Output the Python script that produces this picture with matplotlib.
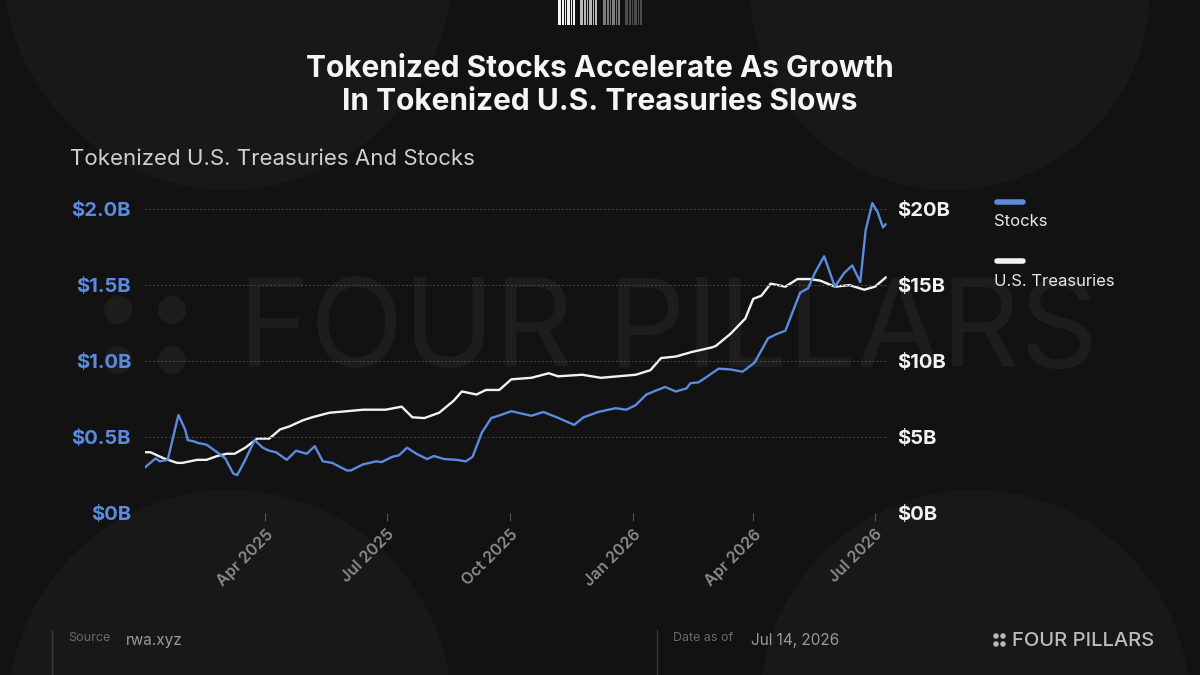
import numpy as np
import pandas as pd
import matplotlib
matplotlib.use("Agg")
import matplotlib.pyplot as plt
import matplotlib.dates as mdates
from matplotlib.patches import Ellipse, Rectangle

plt.rcParams['font.family'] = ['Inter', 'DejaVu Sans']

# tokenized stocks, $B (left axis)
stock_dates = ["2025-01-01", "2025-01-09", "2025-01-12", "2025-01-18", "2025-01-26",
               "2025-01-31", "2025-02-02", "2025-02-07", "2025-02-10", "2025-02-16",
               "2025-02-24", "2025-03-02", "2025-03-08", "2025-03-11", "2025-03-17",
               "2025-03-24", "2025-03-30", "2025-04-04", "2025-04-09", "2025-04-17",
               "2025-04-24", "2025-05-02", "2025-05-08", "2025-05-14", "2025-05-21",
               "2025-06-01", "2025-06-04", "2025-06-13", "2025-06-23", "2025-06-27",
               "2025-07-05", "2025-07-10", "2025-07-16", "2025-07-23", "2025-07-31",
               "2025-08-05", "2025-08-13", "2025-08-22", "2025-08-29", "2025-09-03",
               "2025-09-10", "2025-09-17", "2025-09-24", "2025-10-02", "2025-10-17",
               "2025-10-26", "2025-11-05", "2025-11-18", "2025-11-25", "2025-12-06",
               "2025-12-19", "2025-12-27", "2026-01-03", "2026-01-11", "2026-01-25",
               "2026-02-02", "2026-02-10", "2026-02-13", "2026-02-19", "2026-02-25",
               "2026-03-06", "2026-03-15", "2026-03-24", "2026-04-02", "2026-04-12",
               "2026-04-19", "2026-04-25", "2026-05-06", "2026-05-12", "2026-05-17",
               "2026-05-24", "2026-06-01", "2026-06-08", "2026-06-14", "2026-06-20",
               "2026-06-24", "2026-06-29", "2026-07-03", "2026-07-07", "2026-07-09"]
stock_values = [0.30, 0.36, 0.34, 0.35, 0.645,
                0.55, 0.48, 0.47, 0.46, 0.45,
                0.40, 0.36, 0.26, 0.25, 0.35,
                0.48, 0.43, 0.41, 0.40, 0.35,
                0.41, 0.39, 0.44, 0.34, 0.33,
                0.28, 0.28, 0.32, 0.34, 0.335,
                0.37, 0.38, 0.43, 0.39, 0.355,
                0.375, 0.355, 0.35, 0.34, 0.37,
                0.53, 0.625, 0.645, 0.67, 0.64,
                0.665, 0.63, 0.58, 0.63, 0.665,
                0.69, 0.68, 0.71, 0.78, 0.83,
                0.80, 0.82, 0.855, 0.86, 0.895,
                0.95, 0.945, 0.93, 0.99, 1.15,
                1.18, 1.20, 1.45, 1.48, 1.58,
                1.69, 1.49, 1.58, 1.63, 1.52,
                1.86, 2.04, 1.98, 1.88, 1.90]

# tokenized U.S. treasuries, $B (right axis)
treas_dates = ["2025-01-01", "2025-01-05", "2025-01-15", "2025-01-25", "2025-01-29",
               "2025-02-09", "2025-02-16", "2025-02-24", "2025-03-03", "2025-03-09",
               "2025-03-17", "2025-03-26", "2025-04-04", "2025-04-12", "2025-04-19",
               "2025-04-29", "2025-05-06", "2025-05-19", "2025-06-01", "2025-06-13",
               "2025-06-30", "2025-07-12", "2025-07-20", "2025-07-29", "2025-08-09",
               "2025-08-20", "2025-08-26", "2025-09-06", "2025-09-13", "2025-09-23",
               "2025-10-02", "2025-10-17", "2025-10-30", "2025-11-06", "2025-11-24",
               "2025-12-08", "2025-12-21", "2026-01-03", "2026-01-14", "2026-01-22",
               "2026-02-02", "2026-02-14", "2026-03-01", "2026-03-04", "2026-03-15",
               "2026-03-26", "2026-04-01", "2026-04-07", "2026-04-14", "2026-04-25",
               "2026-05-04", "2026-05-13", "2026-05-21", "2026-06-01", "2026-06-12",
               "2026-06-23", "2026-07-01", "2026-07-09"]
treas_values = [4.0, 4.0, 3.6, 3.3, 3.3,
                3.5, 3.5, 3.75, 3.9, 3.9,
                4.3, 4.9, 4.9, 5.5, 5.7,
                6.1, 6.3, 6.6, 6.7, 6.8,
                6.8, 7.0, 6.3, 6.25, 6.6,
                7.4, 8.0, 7.8, 8.1, 8.1,
                8.8, 8.9, 9.2, 9.0, 9.1,
                8.9, 9.0, 9.1, 9.4, 10.2,
                10.3, 10.6, 10.9, 11.0, 11.8,
                12.8, 14.1, 14.3, 15.1, 14.9,
                15.4, 15.4, 15.3, 14.9, 15.0,
                14.7, 14.9, 15.5]

left_ticks = [0, 0.5, 1.0, 1.5, 2.0]
left_labels = ["$0B", "$0.5B", "$1.0B", "$1.5B", "$2.0B"]
right_ticks = [0, 5, 10, 15, 20]
right_labels = ["$0B", "$5B", "$10B", "$15B", "$20B"]
month_ticks = ["2025-04-01", "2025-07-01", "2025-10-01", "2026-01-01", "2026-04-01", "2026-07-01"]

BG = "#121212"
BLUE = "#5b8be0"
WHITE = "#f2f2f2"

W, H = 1200, 675
fig = plt.figure(figsize=(12, 6.75), dpi=100, facecolor=BG)


def fx(x):
    return x / W


def fy(y):
    return 1 - y / H


# soft background circles
for cx, cy, r in [(228, -35, 225), (950, -10, 200), (230, 712, 222), (975, 705, 215)]:
    fig.patches.append(Ellipse((fx(cx), fy(cy)), 2 * r / W, 2 * r / H, transform=fig.transFigure,
                               facecolor="#181818", edgecolor="none", zorder=-3))

# barcode-like mark at the top
bar_groups = [(558, "#f4f4f4"), (580, "#b8b8b8"), (603, "#7c7c7c"), (625, "#4c4c4c")]
for gx, col in bar_groups:
    for off, bw in [(0, 3), (4, 2), (7, 1), (9, 3), (13, 1), (15, 2)]:
        fig.patches.append(Rectangle((fx(gx + off), fy(25)), bw / W, 25 / H,
                                     transform=fig.transFigure, facecolor=col,
                                     edgecolor="none", zorder=1))

# watermark, kept behind the chart
for cx, cy in [(118, 310), (172, 310), (118, 360), (172, 360)]:
    fig.patches.append(Ellipse((fx(cx), fy(cy)), 28 / W, 28 / H, transform=fig.transFigure,
                               facecolor="#1d1d1d", edgecolor="none", zorder=-2))
fig.text(fx(668), fy(335), "FOUR PILLARS", color="#1d1d1d", fontsize=88,
         ha="center", va="center", zorder=-2)

fig.text(0.5, fy(69), "Tokenized Stocks Accelerate As Growth", color="#f5f5f5",
         fontsize=21.5, fontweight="bold", ha="center", va="center")
fig.text(0.5, fy(102), "In Tokenized U.S. Treasuries Slows", color="#f5f5f5",
         fontsize=21.5, fontweight="bold", ha="center", va="center")
fig.text(fx(70), fy(159), "Tokenized U.S. Treasuries And Stocks", color="#d0d0d0",
         fontsize=16, ha="left", va="center")

# chart area
x0, x1 = 145, 887
ytop, ybot = 194, 513
ax = fig.add_axes([fx(x0), fy(ybot), (x1 - x0) / W, (ybot - ytop) / H])
ax2 = ax.twinx()

sd = pd.to_datetime(stock_dates)
td = pd.to_datetime(treas_dates)
ax2.plot(td, treas_values, color=WHITE, lw=1.7, zorder=3)
ax.plot(sd, stock_values, color=BLUE, lw=1.7, zorder=4)
ax.set_zorder(ax2.get_zorder() + 1)
ax.patch.set_visible(False)
ax2.patch.set_visible(False)

ax.set_xlim(pd.Timestamp("2025-01-01"), pd.Timestamp("2026-07-10"))
ax.set_ylim(0, 2.1)
ax2.set_ylim(0, 21)

for a in (ax, ax2):
    for s in a.spines.values():
        s.set_visible(False)

ax.set_yticks(left_ticks)
ax.set_yticklabels(left_labels)
ax2.set_yticks(right_ticks)
ax2.set_yticklabels(right_labels)
ax.tick_params(axis="y", length=0, pad=10, labelsize=14.5, labelcolor=BLUE)
ax2.tick_params(axis="y", length=0, pad=7, labelsize=14.5, labelcolor="#f2f2f2")
for lab in ax.get_yticklabels() + ax2.get_yticklabels():
    lab.set_fontweight("bold")

ax.grid(axis="y", color="#4a4a4a", lw=0.7, ls=(0, (2, 2)))
ax.set_axisbelow(True)

ax.set_xticks(pd.to_datetime(month_ticks))
ax.xaxis.set_major_formatter(mdates.DateFormatter("%b %Y"))
ax.tick_params(axis="x", length=6, width=0.8, color="#555555", pad=4,
               labelsize=11.5, labelcolor="#8a8a8a")
for lab in ax.get_xticklabels():
    lab.set_rotation(45)
    lab.set_ha("right")
    lab.set_rotation_mode("anchor")
    lab.set_fontweight("semibold")

# legend
fig.add_artist(plt.Line2D([fx(997), fx(1023)], [fy(202), fy(202)], color=BLUE, lw=4,
                          solid_capstyle="round", transform=fig.transFigure))
fig.text(fx(994), fy(222), "Stocks", color="#e8e8e8", fontsize=12, ha="left", va="center")
fig.add_artist(plt.Line2D([fx(997), fx(1023)], [fy(261), fy(261)], color=WHITE, lw=4,
                          solid_capstyle="round", transform=fig.transFigure))
fig.text(fx(994), fy(281), "U.S. Treasuries", color="#e8e8e8", fontsize=12, ha="left", va="center")

# footer
for lx in (52, 657):
    fig.add_artist(plt.Line2D([fx(lx), fx(lx)], [fy(630), 0], color="#3a3a3a", lw=1,
                              transform=fig.transFigure))
fig.text(fx(68), fy(638), "Source", color="#6a6a6a", fontsize=9, ha="left", va="center")
fig.text(fx(126), fy(640), "rwa.xyz", color="#9a9a9a", fontsize=11, ha="left", va="center")
fig.text(fx(673), fy(638), "Date as of", color="#6a6a6a", fontsize=9, ha="left", va="center")
fig.text(fx(751), fy(640), "Jul 14, 2026", color="#9a9a9a", fontsize=11, ha="left", va="center")
for cx, cy in [(996, 636), (1003, 636), (996, 644), (1003, 644)]:
    fig.patches.append(Ellipse((fx(cx), fy(cy)), 5.5 / W, 5.5 / H, transform=fig.transFigure,
                               facecolor="#b8b8b8", edgecolor="none"))
fig.text(fx(1012), fy(641), "FOUR PILLARS", color="#bcbcbc", fontsize=14.5,
         fontweight="medium", ha="left", va="center")

fig.savefig("out.png", dpi=100, facecolor=BG)
